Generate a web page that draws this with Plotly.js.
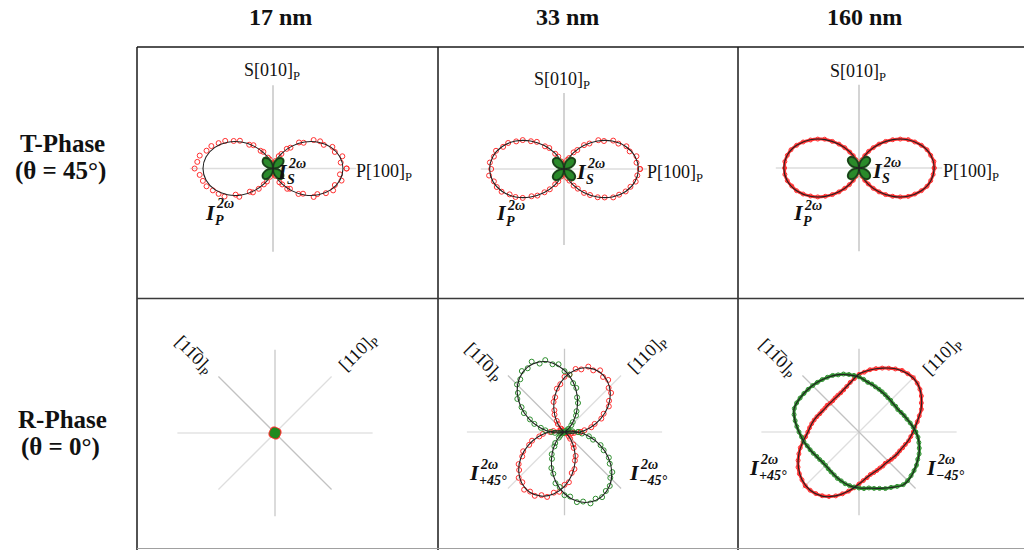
<!DOCTYPE html>
<html>
<head>
<meta charset="utf-8">
<script src="https://cdn.plot.ly/plotly-3.0.1.min.js"></script>
<style>html,body{margin:0;padding:0;background:#fff;}#chart{width:1024px;height:550px;}</style>
</head>
<body>
<div id="chart"></div>
<script>
// ---------- angles (degrees) ----------
const theta5 = [0,5,10,15,20,25,30,35,40,45,50,55,60,65,70,75,80,85,90,95,100,105,110,115,120,125,130,135,140,145,150,155,160,165,170,175,180,185,190,195,200,205,210,215,220,225,230,235,240,245,250,255,260,265,270,275,280,285,290,295,300,305,310,315,320,325,330,335,340,345,350,355];
const theta10 = [0,10,20,30,40,50,60,70,80,90,100,110,120,130,140,150,160,170,180,190,200,210,220,230,240,250,260,270,280,290,300,310,320,330,340,350];
const theta30 = [0,30,60,90,120,150,180,210,240,270,300,330];

// ---------- labels ----------
const colTitles = ["17 nm", "33 nm", "160 nm"];
const rowTitles = ["T-Phase", "R-Phase"];
const rowSubtitles = ["(θ = 45°)", "(θ = 0°)"];

// ---------- T-phase (θ = 45°): P (red) and S (green) SHG intensity, normalised ----------
const t17P = [0.92,0.85,0.88,0.80,0.79,0.70,0.68,0.62,0.50,0.46,0.34,0.30,0.21,0.17,0.10,0.07,0.04,0.03,
              0.03,0.02,0.05,0.07,0.12,0.15,0.24,0.27,0.38,0.42,0.54,0.60,0.69,0.75,0.82,0.86,0.93,0.95,
              0.98,0.92,0.89,0.86,0.80,0.75,0.70,0.57,0.55,0.41,0.39,0.31,0.23,0.18,0.11,0.06,0.04,0.02,
              0.02,0.03,0.05,0.08,0.10,0.19,0.23,0.31,0.33,0.45,0.49,0.62,0.64,0.73,0.80,0.80,0.87,0.84];
const t17Pfit = [0.875,0.849,0.773,0.656,0.514,0.361,0.219,0.102,0.026,0,0.026,0.102,0.219,0.361,0.514,0.656,0.773,0.849,
                 0.875,0.849,0.773,0.656,0.514,0.361,0.219,0.102,0.026,0,0.026,0.102,0.219,0.361,0.514,0.656,0.773,0.849];
const t17S = [0.005,0.058,0.110,0.147,0.168,0.166,0.148,0.108,0.060,
              0.004,0.060,0.112,0.150,0.170,0.164,0.145,0.110,0.056,
              0.006,0.057,0.108,0.146,0.166,0.168,0.150,0.107,0.059,
              0.005,0.059,0.111,0.148,0.167,0.165,0.146,0.109,0.058];
const t17Sfit = [0,0.058,0.109,0.147,0.167,0.167,0.147,0.109,0.058,0,0.058,0.109,0.147,0.167,0.167,0.147,0.109,0.058,
                 0,0.058,0.109,0.147,0.167,0.167,0.147,0.109,0.058,0,0.058,0.109,0.147,0.167,0.167,0.147,0.109,0.058];

const t33P = [0.95,0.91,0.92,0.85,0.83,0.75,0.71,0.61,0.56,0.45,0.39,0.29,0.24,0.15,0.12,0.05,0.04,0.02,
              0.02,0.01,0.03,0.07,0.10,0.17,0.22,0.32,0.37,0.48,0.54,0.63,0.69,0.77,0.81,0.88,0.89,0.93,
              0.91,0.94,0.89,0.87,0.83,0.75,0.70,0.63,0.53,0.47,0.38,0.31,0.22,0.17,0.10,0.07,0.02,0.01,
              0.02,0.02,0.04,0.06,0.12,0.16,0.24,0.30,0.39,0.46,0.55,0.62,0.71,0.76,0.82,0.86,0.91,0.92];
const t33Pfit = [0.93,0.902,0.821,0.698,0.546,0.384,0.233,0.109,0.028,0,0.028,0.109,0.233,0.384,0.546,0.698,0.821,0.902,
                 0.93,0.902,0.821,0.698,0.546,0.384,0.233,0.109,0.028,0,0.028,0.109,0.233,0.384,0.546,0.698,0.821,0.902];
const t33S = [0.004,0.063,0.118,0.155,0.178,0.176,0.157,0.115,0.060,
              0.005,0.061,0.115,0.158,0.176,0.178,0.154,0.117,0.063,
              0.003,0.062,0.117,0.157,0.177,0.177,0.155,0.116,0.061,
              0.005,0.063,0.115,0.156,0.178,0.176,0.157,0.114,0.062];
const t33Sfit = [0,0.062,0.116,0.156,0.177,0.177,0.156,0.116,0.062,0,0.062,0.116,0.156,0.177,0.177,0.156,0.116,0.062,
                 0,0.062,0.116,0.156,0.177,0.177,0.156,0.116,0.062,0,0.062,0.116,0.156,0.177,0.177,0.156,0.116,0.062];

const t160P = [0.94,0.94,0.91,0.88,0.83,0.77,0.71,0.63,0.55,0.47,0.39,0.31,0.24,0.17,0.11,0.07,0.03,0.01,
               0.01,0.01,0.03,0.06,0.11,0.17,0.23,0.31,0.39,0.47,0.56,0.63,0.70,0.77,0.83,0.88,0.91,0.93,
               0.93,0.93,0.91,0.87,0.83,0.77,0.70,0.63,0.55,0.47,0.39,0.31,0.24,0.17,0.11,0.06,0.03,0.01,
               0.01,0.01,0.03,0.06,0.11,0.17,0.23,0.31,0.39,0.47,0.55,0.63,0.71,0.77,0.83,0.88,0.91,0.93];
const t160Pfit = [0.94,0.912,0.830,0.705,0.552,0.388,0.235,0.110,0.028,0,0.028,0.110,0.235,0.388,0.552,0.705,0.830,0.912,
                  0.94,0.912,0.830,0.705,0.552,0.388,0.235,0.110,0.028,0,0.028,0.110,0.235,0.388,0.552,0.705,0.830,0.912];
const t160S = [0.002,0.062,0.116,0.156,0.177,0.177,0.156,0.116,0.062,
               0.002,0.062,0.116,0.156,0.177,0.177,0.156,0.116,0.062,
               0.002,0.062,0.116,0.156,0.177,0.177,0.156,0.116,0.062,
               0.002,0.062,0.116,0.156,0.177,0.177,0.156,0.116,0.062];
const t160Sfit = t33Sfit;

// ---------- R-phase (θ = 0°): I(+45°) red, I(-45°) green ----------
const r17Plus = [0.075,0.080,0.070,0.075,0.080,0.070,0.075,0.080,0.070,0.075,0.080,0.070];
const r17Minus = [0.060,0.066,0.060,0.062,0.066,0.060,0.062,0.066,0.060,0.062,0.066,0.060];

const r33Plus = [0.20,0.25,0.34,0.39,0.49,0.54,0.64,0.68,0.76,0.78,0.85,0.84,0.89,0.85,0.87,0.81,0.80,0.72,
                 0.69,0.60,0.55,0.45,0.40,0.30,0.25,0.17,0.13,0.06,0.05,0.02,0.03,0.02,0.03,0.05,0.07,0.14,
                 0.18,0.27,0.32,0.42,0.47,0.57,0.61,0.70,0.74,0.81,0.82,0.88,0.86,0.88,0.84,0.84,0.77,0.75,
                 0.66,0.63,0.52,0.48,0.38,0.33,0.23,0.19,0.11,0.08,0.03,0.02,0.02,0.01,0.02,0.05,0.09,0.12];
const r33PlusFit = [0.191,0.330,0.480,0.626,0.748,0.833,0.869,0.853,0.787,0.679,0.540,0.390,0.244,0.122,0.037,0.001,0.017,0.083,
                    0.191,0.330,0.480,0.626,0.748,0.833,0.869,0.853,0.787,0.679,0.540,0.390,0.244,0.122,0.037,0.001,0.017,0.083];
const r33Minus = [0.17,0.10,0.07,0.03,0.02,0.01,0.02,0.04,0.06,0.12,0.16,0.25,0.30,0.40,0.46,0.57,0.62,0.72,
                  0.76,0.85,0.86,0.93,0.91,0.97,0.92,0.93,0.86,0.84,0.76,0.72,0.62,0.56,0.46,0.39,0.30,0.24,
                  0.16,0.12,0.05,0.03,0.01,0.02,0.01,0.03,0.07,0.10,0.18,0.22,0.32,0.37,0.48,0.54,0.65,0.69,
                  0.79,0.81,0.89,0.90,0.95,0.92,0.94,0.90,0.88,0.81,0.78,0.69,0.64,0.54,0.48,0.37,0.31,0.22];
const r33MinusFit = [0.168,0.063,0.007,0.007,0.063,0.168,0.309,0.470,0.631,0.772,0.877,0.932,0.932,0.877,0.772,0.631,0.470,0.309,
                     0.168,0.063,0.007,0.007,0.063,0.168,0.309,0.470,0.631,0.772,0.877,0.932,0.932,0.877,0.772,0.631,0.470,0.309];

const r160Plus = [0.68,0.70,0.74,0.78,0.83,0.86,0.90,0.93,0.95,0.96,0.95,0.94,0.91,0.88,0.85,0.82,0.79,0.75,
                  0.72,0.67,0.63,0.59,0.56,0.54,0.53,0.52,0.51,0.51,0.52,0.52,0.53,0.54,0.56,0.58,0.60,0.62,
                  0.64,0.67,0.71,0.76,0.80,0.84,0.88,0.91,0.93,0.95,0.95,0.94,0.92,0.89,0.85,0.80,0.75,0.70,
                  0.65,0.61,0.58,0.55,0.54,0.53,0.52,0.52,0.51,0.52,0.53,0.54,0.55,0.56,0.58,0.60,0.63,0.65];
const r160PlusFit = [0.675,0.738,0.825,0.900,0.950,0.950,0.913,0.850,0.788,0.725,0.625,0.563,0.525,0.513,0.513,0.525,0.563,0.600,
                     0.638,0.713,0.800,0.875,0.931,0.950,0.925,0.850,0.750,0.650,0.575,0.538,0.525,0.513,0.525,0.550,0.575,0.625];
const r160Minus = [0.71,0.68,0.65,0.62,0.60,0.58,0.56,0.56,0.55,0.56,0.56,0.57,0.58,0.59,0.60,0.62,0.63,0.66,
                   0.69,0.71,0.73,0.75,0.76,0.78,0.79,0.80,0.81,0.82,0.83,0.84,0.85,0.86,0.86,0.84,0.81,0.78,
                   0.75,0.72,0.70,0.67,0.65,0.63,0.61,0.60,0.59,0.59,0.60,0.61,0.62,0.64,0.65,0.67,0.68,0.69,
                   0.70,0.71,0.71,0.73,0.75,0.78,0.80,0.83,0.86,0.86,0.85,0.84,0.83,0.81,0.80,0.78,0.76,0.74];
const r160MinusFit = [0.713,0.650,0.600,0.563,0.556,0.563,0.575,0.600,0.631,0.688,0.725,0.763,0.788,0.813,0.831,0.850,0.863,0.813,
                      0.750,0.700,0.650,0.613,0.594,0.594,0.619,0.650,0.681,0.700,0.713,0.750,0.800,0.863,0.856,0.825,0.800,0.763];

// ---------- page geometry ----------
const W = 1024, H = 550, R = 112;          // polar radius in px
const RED = '#ff3030', GREEN = '#2f8f2f', GREEN_FILL = '#2a8a2a', FIT = '#222222';
const px = x => x / W, py = y => 1 - y / H;
const close = a => a.concat([a[0]]);
const closeT = a => a.concat([360]);

const panels = [
  {id:'polar',  cx:273,   cy:168.5, kind:'T'},
  {id:'polar2', cx:564,   cy:169,   kind:'T'},
  {id:'polar3', cx:859,   cy:168,   kind:'T'},
  {id:'polar4', cx:275,   cy:433,   kind:'R'},
  {id:'polar5', cx:564.5, cy:432,   kind:'R'},
  {id:'polar6', cx:859,   cy:432,   kind:'R'}
];

const traces = [];
function spoke(sp, a, len, color) {
  traces.push({type:'scatterpolar', subplot:sp, mode:'lines', r:[len,len], theta:[a, a+180],
    line:{color:color, width:1.3}, hoverinfo:'skip', showlegend:false});
}
function dataMarkers(sp, r, th, color, withLine) {
  traces.push({type:'scatterpolar', subplot:sp, mode: withLine ? 'lines+markers' : 'markers',
    r:close(r), theta:closeT(th),
    line:{color:color, width:3, shape:'spline'},
    marker:{symbol:'circle-open', size: withLine ? 4 : 5, color:color, line:{width:1, color:color}},
    showlegend:false, hoverinfo:'skip'});
}
function fitLine(sp, r, th, w) {
  traces.push({type:'scatterpolar', subplot:sp, mode:'lines', r:close(r), theta:closeT(th),
    line:{color:FIT, width:w||1.1, shape:'spline'}, showlegend:false, hoverinfo:'skip'});
}
function filledClover(sp, r, th) {
  traces.push({type:'scatterpolar', subplot:sp, mode:'lines', r:close(r), theta:closeT(th), fill:'toself',
    fillcolor:GREEN_FILL, line:{color:'#1d6b1d', width:2.2, shape:'spline'}, showlegend:false, hoverinfo:'skip'});
}

// spokes
panels.forEach((p, i) => {
  if (p.kind === 'T') {
    const v = (i === 1) ? 0.95 : 1.04;
    spoke(p.id, 0, 1.04, '#dddddd');
    spoke(p.id, 90, v, '#bdbdbd');
  } else {
    spoke(p.id, 0, 1.22, '#e3e3e3');
    spoke(p.id, 45, 1.0, '#dedede');
    spoke(p.id, 90, 1.04, '#c8c8c8');
    spoke(p.id, 135, 1.0, '#c2c2c2');
  }
});

// T-phase
dataMarkers('polar', t17P, theta5, RED, false);
fitLine('polar', t17Pfit, theta10);
filledClover('polar', t17S, theta10);
fitLine('polar', t17Sfit, theta10, 1);

dataMarkers('polar2', t33P, theta5, RED, false);
fitLine('polar2', t33Pfit, theta10);
filledClover('polar2', t33S, theta10);
fitLine('polar2', t33Sfit, theta10, 1);

dataMarkers('polar3', t160P, theta5, RED, true);
fitLine('polar3', t160Pfit, theta10);
filledClover('polar3', t160S, theta10);
fitLine('polar3', t160Sfit, theta10, 1);

// R-phase
traces.push({type:'scatterpolar', subplot:'polar4', mode:'lines', r:close(r17Plus), theta:closeT(theta30),
  fill:'toself', fillcolor:RED, line:{color:RED, width:1, shape:'spline'}, showlegend:false, hoverinfo:'skip'});
traces.push({type:'scatterpolar', subplot:'polar4', mode:'lines', r:close(r17Minus), theta:closeT(theta30),
  fill:'toself', fillcolor:'#1f8a1f', line:{color:'#1f8a1f', width:1, shape:'spline'}, showlegend:false, hoverinfo:'skip'});

dataMarkers('polar5', r33Plus, theta5, RED, false);
dataMarkers('polar5', r33Minus, theta5, GREEN, false);
fitLine('polar5', r33PlusFit, theta10);
fitLine('polar5', r33MinusFit, theta10);

dataMarkers('polar6', r160Plus, theta5, RED, true);
dataMarkers('polar6', r160Minus, theta5, GREEN, true);
fitLine('polar6', r160PlusFit, theta10);
fitLine('polar6', r160MinusFit, theta10);

// ---------- layout ----------
const layout = {
  width: W, height: H, margin:{l:0, r:0, t:0, b:0},
  paper_bgcolor:'#ffffff', plot_bgcolor:'#ffffff', showlegend:false,
  annotations: [], shapes: []
};
panels.forEach(p => {
  layout[p.id] = {
    domain:{x:[px(p.cx - R), px(p.cx + R)], y:[py(p.cy + R), py(p.cy - R)]},
    bgcolor:'rgba(0,0,0,0)',
    radialaxis:{visible:false, range:[0, 1.4], autorange:false},
    angularaxis:{visible:false, rotation:0, direction:'counterclockwise'}
  };
});

const SERIF = 'Liberation Serif, Times New Roman, serif';
function txt(x, y, text, size, extra) {
  layout.annotations.push(Object.assign({xref:'paper', yref:'paper', x:px(x), y:py(y), text:text,
    showarrow:false, xanchor:'center', yanchor:'middle', borderpad:0,
    font:{family:SERIF, size:size, color:'#111111'}}, extra || {}));
}
function mathLab(x, y, sub) {
  txt(x, y, '<b><i>I</i></b>', 22, {xanchor:'left'});
  txt(x + 11, y - 8, '<b><i>2ω</i></b>', 14, {xanchor:'left'});
  txt(x + 10, y + 8, '<b><i>' + sub + '</i></b>', 14, {xanchor:'left'});
}

// column & row titles
[280, 567, 864].forEach((x, i) => txt(x, 17, '<b>' + colTitles[i] + '</b>', 24));
txt(62, 143, '<b>' + rowTitles[0] + '</b>', 25);
txt(60, 171, '<b>' + rowSubtitles[0] + '</b>', 25);
txt(62, 419, '<b>' + rowTitles[1] + '</b>', 25);
txt(60, 447, '<b>' + rowSubtitles[1] + '</b>', 25);

// T-phase axis labels
[[272,72],[562,80],[858,73]].forEach(a => txt(a[0], a[1], 'S[010]<sub>P</sub>', 18));
[[355,172],[646,173],[942,172]].forEach(a => txt(a[0], a[1], 'P[100]<sub>P</sub>', 18, {xanchor:'left'}));
mathLab(276, 171, 'S'); mathLab(204, 212, 'P');
mathLab(575, 171, 'S'); mathLab(495, 213, 'P');
mathLab(871, 170, 'S'); mathLab(792, 213, 'P');

// R-phase axis labels
const LBAR = '[11\u03050]<sub>P</sub>';
[[193,355],[483,362],[777,358]].forEach(a => txt(a[0], a[1], LBAR, 18, {textangle:45}));
[[358,353],[647,355],[942,357]].forEach(a => txt(a[0], a[1], '[110]<sub>P</sub>', 18, {textangle:-45}));
mathLab(468, 472, '+45°'); mathLab(628, 472, '−45°');
mathLab(748, 467, '+45°'); mathLab(925, 467, '−45°');

// panel frame
function line(x0, y0, x1, y1, color, w) {
  layout.shapes.push({type:'line', xref:'paper', yref:'paper', x0:px(x0), y0:py(y0), x1:px(x1), y1:py(y1),
    line:{color:color, width:w}});
}
line(137, 47, 1024, 47, '#1a1a1a', 1.5);
line(137, 47, 137, 550, '#1a1a1a', 1.5);
line(438, 47, 438, 550, '#1a1a1a', 1.5);
line(738, 47, 738, 550, '#1a1a1a', 1.5);
line(137, 298.5, 1024, 298.5, '#3a3a3a', 1.5);
line(137, 548.5, 1024, 548.5, '#a0a0a0', 1.2);

Plotly.newPlot('chart', traces, layout, {staticPlot:true, displayModeBar:false});
</script>
</body>
</html>
